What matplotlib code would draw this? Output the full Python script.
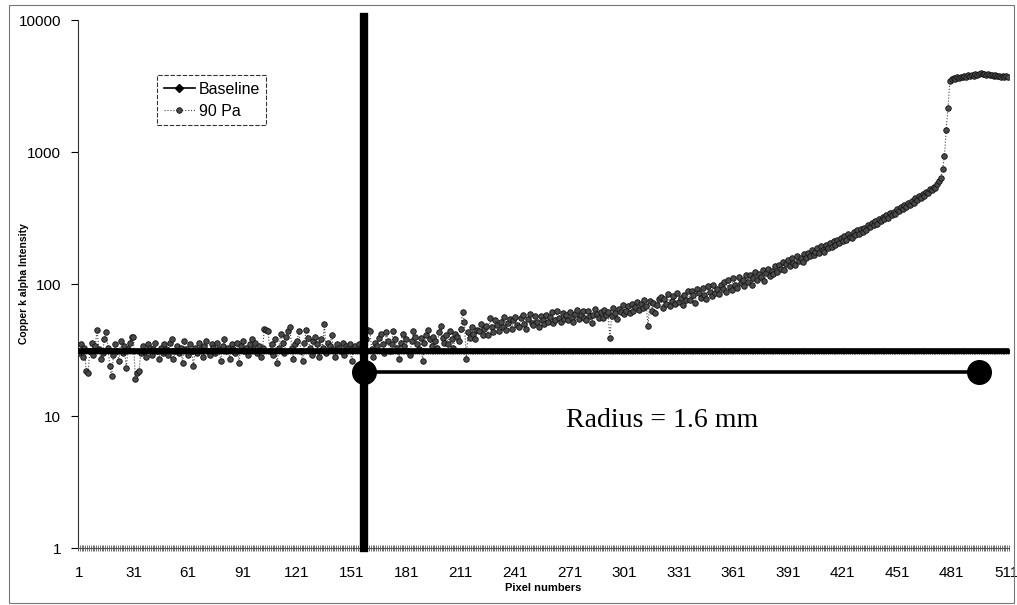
import matplotlib
matplotlib.use("Agg")
import matplotlib.pyplot as plt
from matplotlib.patches import Rectangle
from matplotlib.ticker import FixedLocator, NullFormatter

# ---------------- data ----------------
pixels = list(range(1, 513))
baseline_level = 31

pa90 = [
    30, 35, 28, 33, 22, 21, 31, 36, 29, 34, 45, 32, 27, 30, 38, 43,
    33, 24, 20, 29, 35, 31, 26, 37, 30, 34, 23, 32, 36, 40, 40, 19,
    21, 22, 30, 34, 31, 28, 35, 33, 29, 32, 36, 31, 27, 33, 30, 35,
    32, 29, 36, 38, 27, 31, 34, 30, 33, 25, 37, 32, 29, 35, 31, 24,
    33, 30, 36, 32, 28, 34, 37, 31, 29, 35, 33, 30, 36, 32, 26, 34,
    38, 31, 33, 27, 35, 32, 30, 36, 25, 34, 37, 31, 33, 29, 35, 38,
    32, 36, 30, 34, 28, 33, 46, 45, 44, 31, 35, 29, 38, 25, 33, 42,
    36, 30, 40, 44, 47, 33, 27, 35, 37, 44, 31, 26, 36, 45, 39, 33,
    29, 37, 40, 35, 28, 38, 33, 50, 30, 36, 34, 41, 32, 28, 35, 33,
    31, 36, 29, 34, 33, 35, 26, 33, 34, 32, 35, 33, 30, 34, 38, 45,
    44, 32, 28, 36, 34, 39, 42, 35, 30, 43, 37, 31, 35, 44, 38, 33,
    27, 36, 42, 34, 38, 31, 29, 37, 44, 40, 35, 32, 39, 26, 36, 41,
    45, 38, 34, 40, 37, 33, 43, 48, 39, 36, 41, 35, 44, 38, 33, 42,
    40, 37, 46, 61, 52, 27, 43, 39, 47, 42, 38, 45, 44, 50, 41, 46,
    48, 41, 55, 47, 43, 53, 49, 44, 52, 47, 56, 45, 51, 54, 46, 53,
    56, 49, 47, 55, 58, 50, 46, 54, 59, 51, 49, 57, 52, 47, 57, 53,
    50, 58, 52, 56, 61, 51, 53, 62, 55, 52, 60, 54, 58, 53, 61, 55,
    52, 59, 64, 54, 58, 62, 55, 53, 63, 57, 51, 58, 65, 59, 55, 61,
    55, 64, 58, 61, 39, 57, 66, 60, 54, 65, 61, 69, 59, 63, 68, 60,
    70, 62, 67, 73, 64, 71, 66, 76, 68, 48, 74, 63, 72, 60, 69, 77,
    80, 66, 77, 71, 84, 68, 75, 81, 70, 86, 73, 78, 69, 83, 76, 88,
    76, 89, 82, 72, 91, 85, 79, 94, 83, 77, 96, 87, 81, 99, 86, 92,
    84, 98, 92, 103, 87, 107, 95, 90, 111, 99, 93, 114, 101, 108, 96, 117,
    104, 118, 99, 112, 124, 107, 119, 113, 128, 106, 121, 131, 115, 126, 119, 136,
    124, 140, 131, 147, 128, 143, 152, 136, 158, 145, 139, 162, 150, 157, 146, 168,
    158, 171, 162, 180, 166, 176, 189, 172, 193, 181, 175, 199, 186, 204, 191, 210,
    198, 214, 205, 224, 210, 231, 217, 240, 226, 222, 246, 235, 255, 241, 262, 249,
    266, 255, 280, 269, 291, 278, 300, 287, 311, 298, 322, 309, 336, 318, 345, 331,
    350, 341, 368, 356, 382, 370, 396, 385, 411, 398, 428, 414, 445, 430, 462, 448,
    480, 468, 500, 490, 522, 512, 545, 535, 570, 600, 640, 740, 930, 1480, 2170, 3450,
    3550, 3620, 3580, 3700, 3650, 3720, 3680, 3760, 3700, 3800, 3740, 3850, 3780, 3900, 3820, 3880,
    3950, 3870, 3920, 3840, 3900, 3800, 3860, 3780, 3820, 3740, 3790, 3720, 3760, 3700, 3740, 3680,
]
baseline = [baseline_level for _ in pixels]

xtick_labels = [str(v) for v in range(1, 512, 30)]
ytick_values = [1, 10, 100, 1000, 10000]

radius_x = [158, 496]
radius_y = 21.7
radius_text = "Radius = 1.6 mm"

# ---------------- figure ----------------
plt.rcParams['font.family'] = ['Liberation Sans', 'DejaVu Sans']
fig = plt.figure(figsize=(10.17, 6.05), dpi=100)
ax = fig.add_axes([0.0767, 0.0942, 0.9154, 0.8727])

ax.plot(pixels, pa90, linestyle=':', color='#444444', lw=0.8,
        marker='o', ms=4.0, mfc='#4a4a4a', mec='#111111', mew=0.6,
        label='90 Pa', zorder=3)
ax.plot(pixels, baseline, linestyle='-', color='black', lw=4.0,
        marker='D', ms=2.5, mfc='black', mec='black',
        label='Baseline', zorder=4)

# annotation lines
ax.axvline(radius_x[0], ymin=0, ymax=1.006, color='black', lw=6, zorder=6,
           clip_on=False)
ax.plot(radius_x, [radius_y, radius_y], color='black', lw=2.6, zorder=6)
ax.plot(radius_x, [radius_y, radius_y], linestyle='none', marker='o',
        ms=17, color='black', zorder=7)
ax.text(321.5, 9.2, radius_text, ha='center', va='center',
        fontsize=20, family=['Liberation Serif', 'DejaVu Serif'], zorder=8)

ax.set_yscale('log')
ax.set_ylim(1, 10000)
ax.set_xlim(0.5, 512.5)

ax.yaxis.set_major_locator(FixedLocator(ytick_values))
ax.set_yticklabels([str(v) for v in ytick_values], fontsize=11)
ax.yaxis.set_minor_locator(FixedLocator([]))
ax.tick_params(axis='y', which='major', direction='out', length=5, width=0.8,
               pad=7, colors='black')

ax.xaxis.set_major_locator(FixedLocator(list(range(1, 512, 30))))
ax.set_xticklabels(xtick_labels, fontsize=11)
ax.xaxis.set_minor_locator(FixedLocator([p + 0.5 for p in range(0, 513)]))
ax.xaxis.set_minor_formatter(NullFormatter())
ax.tick_params(axis='x', which='major', length=0, pad=13)
ax.tick_params(axis='x', which='minor', direction='inout', length=4,
               width=0.5, color='#333333')

for s in ['top', 'right']:
    ax.spines[s].set_visible(False)
ax.spines['left'].set_color('#333333')
ax.spines['left'].set_linewidth(0.8)
ax.spines['bottom'].set_color('#555555')
ax.spines['bottom'].set_linewidth(0.8)

ax.set_ylabel('Copper k alpha Intensity', fontsize=7.5, fontweight='bold')
ax.yaxis.set_label_coords(-0.053, 0.5)
ax.set_xlabel('Pixel numbers', fontsize=8, fontweight='bold', labelpad=2)

handles, labels = ax.get_legend_handles_labels()
leg = ax.legend([handles[1], handles[0]], [labels[1], labels[0]],
                loc='upper left', bbox_to_anchor=(0.085, 0.895),
                borderaxespad=0, fontsize=11.5, frameon=True, fancybox=False,
                edgecolor='black', handlelength=2.0, handletextpad=0.2,
                borderpad=0.4, labelspacing=0.45)
leg.get_frame().set_linewidth(0.8)
leg.get_frame().set_linestyle((0, (4, 1.5)))
leg.legend_handles[0].set_linewidth(1.2)
leg.legend_handles[0].set_markersize(4)

# chart border
fig.patches.append(Rectangle((0.009, 0.004), 0.988, 0.987, transform=fig.transFigure,
                             fill=False, edgecolor='#777777', lw=0.8))

fig.savefig('out.png', dpi=100)
